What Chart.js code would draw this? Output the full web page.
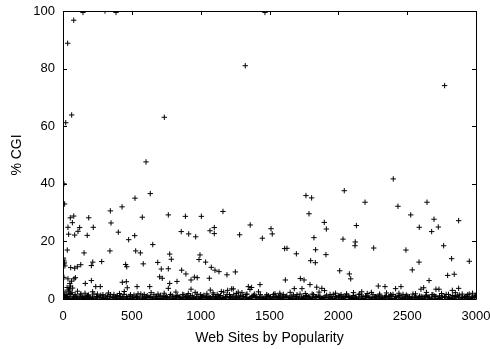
<!DOCTYPE html>
<html>
<head>
<meta charset="utf-8">
<script src="https://cdn.jsdelivr.net/npm/chart.js@4"></script>
<style>
  html, body { margin: 0; padding: 0; background: #fff; }
  #chart { display: block; }
</style>
</head>
<body>
<canvas id="chart" width="490" height="349"></canvas>
<script>
// --- Data ---
const xTicks = [0, 500, 1000, 1500, 2000, 2500, 3000];
const yTicks = [0, 20, 40, 60, 80, 100];

// scattered sites, above the dense band
const sparseX = [
  34, 78, 20, 63, 145, 305, 385, 736, 603, 1324,
  1467, 2772, 7, 12, 78, 53, 187, 68, 36, 121,
  220, 109, 41, 85, 176, 344, 429, 523, 634, 349,
  576, 402, 477, 521, 652, 31, 153, 341, 528, 562,
  5, 8, 14, 3, 10, 56, 85, 104, 129, 206,
  216, 281, 455, 463, 583, 688, 714, 702, 721, 7,
  36, 80, 90, 206, 162, 50, 48, 44, 238, 271,
  431, 460, 467, 538, 630, 55, 62, 70, 30, 765,
  889, 1005, 1162, 859, 913, 964, 1068, 1099, 1099, 1283,
  1360, 1448, 1511, 1520, 775, 787, 995, 988, 1036, 765,
  1077, 1104, 1133, 1191, 1252, 862, 893, 954, 975, 1063,
  775, 765, 828, 930, 930, 1070, 1167, 1196, 1225, 1237,
  1346, 1370, 1358, 1431, 1273, 1765, 1806, 2043, 2194, 1787,
  1898, 1913, 2131, 1823, 2034, 2123, 2121, 2257, 1610, 1627,
  1835, 1695, 1910, 1799, 1833, 2010, 2080, 2090, 1615, 1724,
  1751, 1794, 1843, 1680, 1736, 1880, 1900, 2290, 2170, 2240,
  2399, 2433, 2644, 2526, 2695, 2588, 2678, 2726, 2874, 2491,
  2765, 2586, 2823, 2951, 2537, 2794, 2842, 2659, 2339, 2416,
  2455, 2600, 2620, 2709, 2731, 2828, 2874
];
const sparseY = [
  88.8, 96.8, 61.2, 63.9, 99.5, 100, 99.5, 63.1, 47.6, 81.0,
  99.5, 74.1, 40, 33, 28.8, 28.2, 28.2, 26.5, 24.9, 24.8,
  24.9, 23.5, 22.5, 22.2, 22.1, 30.6, 32.0, 35.0, 36.6, 26.4,
  28.4, 23.2, 20.6, 22.0, 18.9, 17.0, 16.0, 16.7, 16.7, 16.0,
  13.5, 12.2, 11.5, 14.2, 12.8, 10.9, 10.7, 11.2, 11.9, 11.6,
  12.8, 13.0, 12.0, 11.2, 12.2, 12.7, 10.4, 7.7, 7.2, 7.5,
  7.0, 7.0, 7.4, 6.4, 5.4, 5.4, 3.5, 2.7, 4.3, 4.3,
  5.8, 6.0, 3.9, 4.3, 4.3, 4.5, 6.2, 3.8, 4.0, 29.2,
  28.7, 28.7, 30.4, 23.4, 22.6, 21.6, 23.7, 24.8, 22.7, 22.3,
  25.7, 21.1, 24.4, 22.6, 15.6, 13.8, 15.3, 13.7, 12.8, 10.5,
  11.0, 10.0, 9.5, 8.4, 9.4, 10.0, 8.7, 7.6, 7.4, 7.2,
  5.4, 3.7, 6.1, 6.6, 3.4, 3.1, 2.4, 3.0, 3.5, 3.5,
  4.3, 4.0, 3.3, 5.0, 2.4, 35.9, 35.1, 37.6, 33.6, 29.6,
  26.6, 24.3, 25.5, 21.3, 20.8, 19.8, 18.5, 17.7, 17.5, 17.6,
  17.1, 15.7, 15.4, 13.3, 12.6, 9.8, 8.7, 7.0, 6.6, 7.1,
  6.6, 5.0, 4.1, 3.6, 3.6, 3.7, 2.9, 4.5, 2.5, 2.3,
  41.7, 32.2, 33.6, 29.2, 27.7, 24.9, 23.4, 25.0, 27.2, 17.0,
  18.5, 12.8, 14.0, 13.1, 10.1, 8.2, 8.6, 6.4, 4.3, 3.6,
  4.3, 3.4, 3.9, 3.4, 3.4, 3.0, 3.7
];

// fringe just above the band (1.5 - 3 %)
const fringeX = [
  15, 28, 40, 52, 66, 88, 105, 130, 160, 185,
  215, 250, 290, 330, 370, 410, 445, 490, 545, 590,
  640, 690, 735, 780, 820, 870, 910, 960, 1000, 1045,
  1090, 1120, 1150, 1210, 1260, 1300, 1330, 1390, 1420, 1480,
  1540, 1575, 1600, 1650, 1700, 1760, 1810, 1860, 1940, 1980,
  2020, 2060, 2110, 2150, 2210, 2300, 2350, 2380, 2440, 2470,
  2560, 2640, 2680, 2750, 2800, 2850, 2900, 2940, 2975
];
const fringeY = [
  2.4, 1.6, 3.1, 1.9, 2.2, 1.5, 2.7, 1.8, 2.0, 1.4,
  2.5, 1.7, 1.5, 2.1, 1.6, 1.9, 2.6, 1.5, 1.8, 1.6,
  2.2, 1.7, 2.0, 1.5, 2.4, 1.6, 1.9, 2.3, 1.5, 1.8,
  2.1, 1.6, 2.6, 1.5, 1.9, 2.2, 1.6, 1.7, 2.5, 1.5,
  1.8, 2.0, 1.6, 2.3, 1.5, 1.9, 1.7, 2.4, 1.6, 2.0,
  1.5, 1.8, 2.2, 1.6, 1.9, 1.7, 2.1, 1.5, 2.0, 1.6,
  1.8, 2.3, 1.5, 1.9, 1.6, 2.2, 1.7, 1.5, 2.0
];

// the dense band of sites with almost no CGI
const bandX = [
  2, 21, 44, 70, 93, 118, 141, 166, 190, 214,
  237, 263, 286, 311, 335, 358, 384, 407, 431, 456,
  480, 503, 529, 552, 577, 601, 624, 650, 673, 697,
  722, 745, 770, 794, 818, 843, 866, 890, 915, 939,
  962, 987, 1011, 1036, 1059, 1083, 1108, 1131, 1156, 1180,
  1204, 1229, 1252, 1277, 1300, 1325, 1349, 1372, 1397, 1421,
  1445, 1470, 1493, 1518, 1541, 1566, 1590, 1613, 1638, 1662,
  1686, 1711, 1734, 1759, 1782, 1807, 1831, 1854, 1879, 1903,
  1927, 1952, 1975, 2000, 2023, 2048, 2072, 2095, 2120, 2144,
  2168, 2193, 2216, 2241, 2264, 2289, 2313, 2336, 2361, 2385,
  2409, 2434, 2457, 2482, 2505, 2530, 2554, 2577, 2602, 2626,
  2650, 2675, 2698, 2723, 2746, 2771, 2795, 2818, 2843, 2867,
  2891, 2916, 2939, 2964, 2988
];
const bandY = [
  0.3, 0, 0.8, 0.2, 1.0, 0, 0.5, 0.9, 0.1, 0.6,
  0, 0.7, 0.3, 1.1, 0, 0.4, 0.8, 0.1, 0.6, 0,
  0.9, 0.2, 0.5, 0, 1.0, 0.3, 0.7, 0, 0.4, 0.9,
  0.1, 0.6, 0, 1.0, 0.3, 0.8, 0, 0.5, 0.2, 1.1,
  0, 0.4, 0.9, 0.1, 0.7, 0, 0.5, 1.0, 0.2, 0.6,
  0, 0.8, 0.3, 1.0, 0.1, 0.6, 0, 0.9, 0.4, 0,
  0.7, 0.2, 1.1, 0, 0.5, 0.8, 0.1, 0.6, 0, 1.0,
  0.3, 0, 0.7, 0.2, 0.9, 0, 0.5, 1.0, 0.1, 0.6,
  0, 0.8, 0.3, 1.1, 0, 0.4, 0.9, 0.2, 0.6, 0,
  1.0, 0.3, 0.7, 0, 0.5, 0.9, 0.1, 0.6, 0, 1.1,
  0.2, 0.8, 0, 0.4, 1.0, 0.1, 0.6, 0, 0.9, 0.3,
  0.7, 0, 1.0, 0.2, 0.5, 0.9, 0, 0.6, 0.3, 1.1,
  0, 0.5, 0.9, 0.2, 0.7
];
const band2X = [
  10, 33, 57, 81, 106, 129, 153, 178, 202, 225,
  250, 274, 298, 323, 346, 371, 395, 419, 443, 468,
  491, 516, 540, 565, 589, 612, 637, 661, 685, 709,
  733, 758, 782, 806, 830, 854, 878, 903, 927, 950,
  975, 999, 1023, 1047, 1071, 1096, 1119, 1144, 1168, 1192,
  1216, 1240, 1264, 1289, 1312, 1337, 1361, 1385, 1409, 1433,
  1458, 1481, 1506, 1529, 1554, 1578, 1602, 1626, 1650, 1674,
  1698, 1722, 1747, 1770, 1795, 1819, 1843, 1867, 1891, 1915,
  1940, 1963, 1988, 2011, 2036, 2060, 2084, 2108, 2132, 2156,
  2180, 2204, 2229, 2252, 2277, 2301, 2325, 2349, 2373, 2397,
  2421, 2446, 2469, 2494, 2517, 2542, 2566, 2590, 2614, 2638,
  2662, 2687, 2710, 2735, 2758, 2783, 2807, 2831, 2855, 2879,
  2903, 2928, 2951, 2976, 2996
];
const band2Y = [
  1.2, 0.5, 1.6, 0.8, 0.3, 1.4, 0.6, 1.1, 0.4, 1.7,
  0.7, 1.3, 0.2, 0.9, 1.5, 0.5, 1.2, 0.8, 1.6, 0.3,
  1.0, 1.4, 0.6, 1.7, 0.4, 1.1, 0.8, 1.5, 0.2, 1.3,
  0.9, 0.5, 1.6, 0.7, 1.2, 0.3, 1.4, 0.8, 1.1, 0.5,
  1.7, 0.6, 1.3, 0.9, 0.4, 1.5, 0.7, 1.2, 0.3, 1.6,
  0.8, 1.4, 0.5, 1.1, 0.9, 1.7, 0.4, 1.2, 0.6, 1.5,
  0.3, 1.0, 0.8, 1.6, 0.5, 1.3, 0.7, 1.1, 0.4, 1.4,
  0.9, 1.7, 0.6, 1.2, 0.3, 1.5, 0.8, 1.0, 0.5, 1.3,
  0.7, 1.6, 0.4, 1.1, 0.9, 1.4, 0.6, 1.2, 0.3, 1.7,
  0.8, 1.0, 0.5, 1.5, 0.7, 1.3, 0.4, 1.1, 0.9, 1.6,
  0.6, 1.2, 0.3, 1.4, 0.8, 1.7, 0.5, 1.0, 0.7, 1.3,
  0.4, 1.5, 0.9, 1.1, 0.6, 1.6, 0.3, 1.2, 0.8, 1.4,
  0.5, 1.0, 1.7, 0.7, 1.3
];
const band3X = [
  6, 27, 50, 76, 99, 123, 147, 172, 196, 219,
  243, 268, 292, 317, 340, 364, 389, 413, 437, 462,
  485, 509, 534, 558, 583, 606, 631, 655, 679, 703,
  727, 751, 776, 800, 824, 848, 872, 896, 921, 944,
  969, 993, 1017, 1041, 1065, 1089, 1113, 1138, 1162, 1186,
  1210, 1234, 1258, 1283, 1306, 1331, 1355, 1379, 1403, 1427,
  1451, 1476, 1499, 1523, 1548, 1572, 1596, 1620, 1644, 1668,
  1692, 1716, 1741, 1765, 1789, 1813, 1837, 1861, 1885, 1909,
  1933, 1958, 1981, 2006, 2029, 2054, 2078, 2102, 2126, 2150,
  2174, 2198, 2222, 2247, 2270, 2295, 2319, 2343, 2367, 2391,
  2415, 2440, 2463, 2488, 2511, 2536, 2560, 2584, 2608, 2632,
  2656, 2681, 2704, 2729, 2752, 2777, 2801, 2825, 2849, 2873,
  2897, 2922, 2945, 2970, 2993
];
const band3Y = [
  0.5, 0.9, 0.1, 0.6, 0.4, 0.8, 0.2, 0.3, 0.7, 0.1,
  0.9, 0.4, 0.6, 0.2, 0.8, 0.5, 0.1, 0.7, 0.3, 0.9,
  0.2, 0.6, 0.8, 0.4, 0.1, 0.7, 0.5, 0.3, 0.9, 0.2,
  0.6, 0.8, 0.4, 0.1, 0.7, 0.5, 0.3, 0.9, 0.6, 0.2,
  0.8, 0.1, 0.5, 0.7, 0.3, 0.9, 0.2, 0.6, 0.4, 0.8,
  0.5, 0.1, 0.7, 0.3, 0.9, 0.4, 0.2, 0.6, 0.8, 0.5,
  0.1, 0.7, 0.4, 0.3, 0.9, 0.2, 0.6, 0.8, 0.5, 0.1,
  0.7, 0.4, 0.2, 0.9, 0.6, 0.3, 0.8, 0.5, 0.1, 0.7,
  0.4, 0.2, 0.9, 0.6, 0.3, 0.8, 0.5, 0.1, 0.7, 0.4,
  0.2, 0.9, 0.6, 0.3, 0.8, 0.1, 0.5, 0.7, 0.4, 0.2,
  0.9, 0.6, 0.3, 0.8, 0.1, 0.5, 0.7, 0.4, 0.2, 0.9,
  0.6, 0.3, 0.8, 0.1, 0.5, 0.7, 0.4, 0.2, 0.9, 0.6,
  0.3, 0.8, 0.1, 0.5, 0.7
];

function toPoints(xs, ys) {
  return xs.map((x, i) => ({ x: x, y: ys[i] }));
}

const points = [].concat(
  toPoints(bandX, bandY),
  toPoints(band2X, band2Y),
  toPoints(band3X, band3Y),
  toPoints(fringeX, fringeY),
  toPoints(sparseX, sparseY)
);

const FAMILY = '"Liberation Sans", Arial, Helvetica, sans-serif';
const TICK_FONT = { family: FAMILY, size: 13 };
const TITLE_FONT = { family: FAMILY, size: 14 };

// gnuplot-style box with inward ticks on all four sides
const frame = {
  id: 'frame',
  afterDraw(chart) {
    const { ctx, chartArea: a, scales } = chart;
    const len = 4;
    ctx.save();
    ctx.strokeStyle = '#000';
    ctx.lineWidth = 1;
    ctx.beginPath();
    ctx.rect(Math.round(a.left) + 0.5, Math.round(a.top) + 0.5,
             Math.round(a.right - a.left), Math.round(a.bottom - a.top));
    xTicks.forEach(v => {
      const px = Math.round(scales.x.getPixelForValue(v)) + 0.5;
      ctx.moveTo(px, a.bottom); ctx.lineTo(px, a.bottom - len);
      ctx.moveTo(px, a.top); ctx.lineTo(px, a.top + len);
    });
    yTicks.forEach(v => {
      const py = Math.round(scales.y.getPixelForValue(v)) + 0.5;
      ctx.moveTo(a.left, py); ctx.lineTo(a.left + len, py);
      ctx.moveTo(a.right, py); ctx.lineTo(a.right - len, py);
    });
    ctx.stroke();
    ctx.restore();
  }
};

new Chart(document.getElementById('chart'), {
  type: 'scatter',
  data: {
    datasets: [{
      label: '% CGI',
      data: points,
      pointStyle: 'cross',
      pointRadius: 2.7,
      pointBorderWidth: 1,
      borderColor: '#000',
      backgroundColor: '#000'
    }]
  },
  options: {
    responsive: false,
    animation: false,
    devicePixelRatio: 1,
    events: [],
    layout: { padding: { top: 11, right: 14, left: 0, bottom: 0 } },
    plugins: {
      legend: { display: false },
      tooltip: { enabled: false }
    },
    scales: {
      x: {
        type: 'linear',
        min: 0,
        max: 3000,
        afterBuildTicks: s => { s.ticks = xTicks.map(v => ({ value: v })); },
        afterFit: s => { s.height = 50; s.paddingLeft = 0; s.paddingRight = 0; },
        grid: { display: false, drawTicks: false },
        border: { display: false },
        ticks: { color: '#000', font: TICK_FONT, padding: 10, maxRotation: 0, autoSkip: false,
                 callback: v => String(v) },
        title: {
          display: true,
          text: 'Web Sites by Popularity',
          color: '#000',
          font: TITLE_FONT,
          padding: { top: 0, bottom: 2 }
        }
      },
      y: {
        type: 'linear',
        min: 0,
        max: 100,
        afterBuildTicks: s => { s.ticks = yTicks.map(v => ({ value: v })); },
        afterFit: s => { s.width = 63; s.paddingTop = 0; s.paddingBottom = 0; },
        grid: { display: false, drawTicks: false },
        border: { display: false },
        ticks: { color: '#000', font: TICK_FONT, padding: 8, autoSkip: false,
                 callback: v => String(v) },
        title: {
          display: true,
          text: '% CGI',
          color: '#000',
          font: TITLE_FONT,
          padding: { top: 9, bottom: 0 }
        }
      }
    }
  },
  plugins: [frame]
});
</script>
</body>
</html>
